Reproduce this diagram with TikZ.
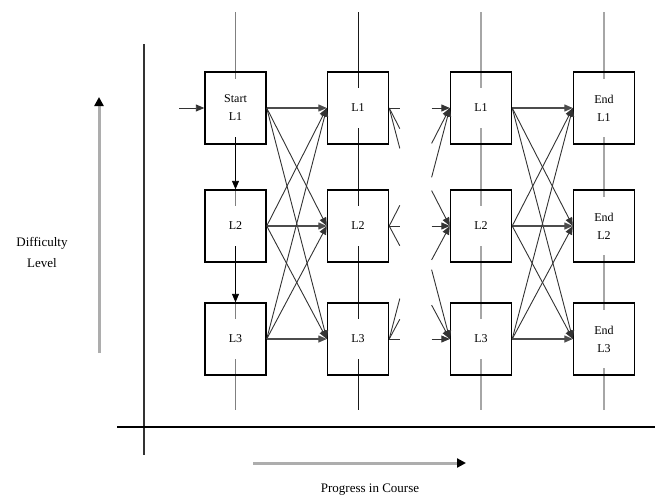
\documentclass[tikz,border=0pt]{standalone}
\usepackage{fontspec}
\setmainfont{Liberation Serif}
\usetikzlibrary{arrows.meta,calc}
\begin{document}
\begin{tikzpicture}[x=1pt,y=-1pt,
  box/.style={draw, line width=1.4pt, minimum width=61pt, minimum height=72pt, inner sep=0pt},
  lbl/.style={fill=white, inner xsep=2pt, inner ysep=16pt, font=\fontsize{12}{18}\selectfont, align=center},
  axlbl/.style={font=\fontsize{13}{21}\selectfont, align=center},
  conn/.style={line width=0.9pt, draw=black!80},
  hconn/.style={line width=1.3pt, draw=black!70},
  tip/.style={-{Triangle[length=8.5pt,width=7pt]}},
  vgray/.style={line width=1.6pt, draw=black!35},
  vdark/.style={line width=1pt, draw=black!90},
  axis/.style={line width=1.5pt, draw=black!80},
  bigarrow/.style={line width=3pt, draw=black!32, -{Triangle[length=9pt,width=9pt,color=black]}}
]
\useasboundingbox (0,0) rectangle (655,498);

% axes
\coordinate (vaT) at (144,44);
\coordinate (vaB) at (144,455);
\coordinate (haL) at (117,427);
\coordinate (haR) at (655,427);
\draw[axis] (vaT) -- (vaB);
\draw[axis,draw=black] (haL) -- (haR);

\coordinate (daB) at (99,353);
\coordinate (daT) at (99,97);
\draw[bigarrow] (daB) -- (daT);
\node[axlbl] (dl) at (42,252) {Difficulty\\Level};

\coordinate (paL) at (253,463);
\coordinate (paR) at (466,463);
\draw[bigarrow] (paL) -- (paR);
\node[axlbl] (pl) at (370,490) {Progress in Course};

% column vertical lines
\foreach \c/\x in {1/235.5,2/358,3/481,4/604}{
  \coordinate (top\c) at (\x,12);
  \coordinate (bot\c) at (\x,410);
}
\draw[vgray,draw=black!50,line width=1.3pt] (top1) -- (bot1);
\draw[vdark] (top2) -- (bot2);
\draw[vgray] (top3) -- (bot3);
\draw[vgray] (top4) -- (bot4);

% boxes
\foreach \c/\x in {1/235.5,2/358,3/481,4/604}{
  \foreach \r/\y in {1/108,2/226,3/339}{
    \node[box] (b\c\r) at (\x,\y) {};
  }
}

% labels
\node[lbl] (l11) at (b11) {Start\\L1};
\node[lbl] (l12) at (b12) {L2};
\node[lbl] (l13) at (b13) {L3};
\node[lbl] (l21) at (b21) {L1};
\node[lbl] (l22) at (b22) {L2};
\node[lbl] (l23) at (b23) {L3};
\node[lbl] (l31) at (b31) {L1};
\node[lbl] (l32) at (b32) {L2};
\node[lbl] (l33) at (b33) {L3};
\node[lbl] (l41) at (b41) {End\\L1};
\node[lbl] (l42) at (b42) {End\\L2};
\node[lbl] (l43) at (b43) {End\\L3};

% entry arrow
\coordinate (in) at (179,108);
\draw[conn,tip] (in) -- (b11.west);

% column 1 downward arrows
\draw[conn,tip,draw=black] (l11.south) -- (b12.north);
\draw[conn,tip,draw=black] (l12.south) -- (b13.north);

% full bipartite connections col1->col2 and col3->col4
\foreach \a/\b in {1/2,3/4}{
  \foreach \i in {1,2,3}{
    \foreach \j in {1,2,3}{
      \ifnum\i=\j
        \draw[hconn,tip] (b\a\i.east) -- (b\b\j.west);
      \else
        \draw[conn,tip] (b\a\i.east) -- (b\b\j.west);
      \fi
    }
  }
}

% broken connections col2->col3
\foreach \i in {1,2,3}{
  \foreach \j in {1,2,3}{
    \draw[conn] (b2\i.east) -- ($(b2\i.east)!0.175!(b3\j.west)$);
    \draw[conn,tip] ($(b2\i.east)!0.70!(b3\j.west)$) -- (b3\j.west);
  }
}
\end{tikzpicture}
\end{document}
